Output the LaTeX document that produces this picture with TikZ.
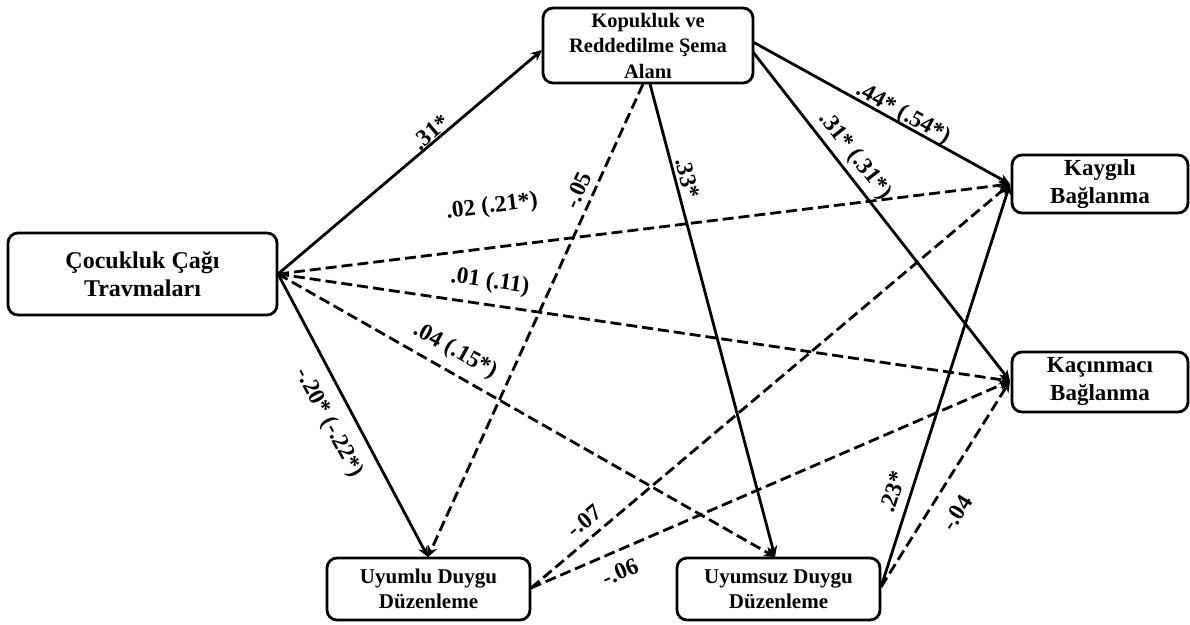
\documentclass[tikz,border=0pt]{standalone}
\usepackage{fontspec}
\setmainfont{Liberation Serif}
\usetikzlibrary{arrows.meta,calc}
\begin{document}
\begin{tikzpicture}[x=1pt,y=-1pt,
 box/.style={draw,line width=2.8pt,rounded corners=10pt,align=center,inner sep=0pt},
 conn/.style={line width=2.8pt,-{Stealth[length=11pt,width=10pt]}},
 dsh/.style={conn,dash pattern=on 11pt off 5pt},
 lab/.style={font=\fontsize{23.5}{25}\selectfont\bfseries,inner sep=1pt}]
\useasboundingbox (0,0) rectangle (1190,624);
% nodes
\node[box,font={\fontsize{24}{28}\selectfont\bfseries},minimum width=269pt,minimum height=82pt] (cct) at (142.5,274) {Çocukluk Çağı\\Travmaları};
\node[box,font={\fontsize{20.5}{25.5}\selectfont\bfseries},minimum width=210pt,minimum height=75pt] (kop) at (648,45.5) {Kopukluk ve\\Reddedilme Şema\\Alanı};
\node[box,font={\fontsize{23}{28}\selectfont\bfseries},minimum width=176pt,minimum height=58pt] (kay) at (1100,184) {Kaygılı\\Bağlanma};
\node[box,font={\fontsize{23}{28}\selectfont\bfseries},minimum width=176pt,minimum height=60pt] (kac) at (1100,382) {Kaçınmacı\\Bağlanma};
\node[box,font={\fontsize{21}{25}\selectfont\bfseries},minimum width=203pt,minimum height=62pt] (uyl) at (428.5,589) {Uyumlu Duygu\\Düzenleme};
\node[box,font={\fontsize{21}{25}\selectfont\bfseries},minimum width=203pt,minimum height=62pt] (uys) at (778.5,589) {Uyumsuz Duygu\\Düzenleme};
% connection points
\coordinate (cR) at (278,274);
\coordinate (kL) at (542,50);
\coordinate (kB1) at (643,84);
\coordinate (kB2) at (650,84);
\coordinate (kR1) at (753,42);
\coordinate (kR2) at (753,52);
\coordinate (kayL) at (1010,184);
\coordinate (kacL) at (1010,381);
\coordinate (uylT) at (428,557);
\coordinate (uysT) at (775,557);
\coordinate (uylR) at (531,588);
\coordinate (uysR) at (881,587);
% connectors
\draw[conn] (cR) -- (kL);
\draw[dsh] (cR) -- (kayL);
\draw[dsh] (cR) -- (kacL);
\draw[dsh] (cR) -- (uysT);
\draw[conn] (cR) -- (uylT);
\draw[dsh] (kB1) -- (uylT);
\draw[conn] (kB2) -- (uysT);
\draw[conn] (kR1) -- (kayL);
\draw[conn] (kR2) -- (kacL);
\draw[dsh] (uylR) -- (kayL);
\draw[dsh] (uylR) -- (kacL);
\draw[conn] (uysR) -- (kayL);
\draw[dsh] (uysR) -- (kacL);
% labels
\node[lab,rotate=40] (l1) at (431,132) {.31*};
\node[lab,rotate=7] (l2) at (492,207) {.02 (.21*)};
\node[lab,rotate=-8] (l3) at (490,282) {.01 (.11)};
\node[lab,rotate=-29] (l4) at (455,351) {.04 (.15*)};
\node[lab,rotate=-62] (l5) at (329,423) {-.20* (-.22*)};
\node[lab,rotate=65] (l6) at (578,190) {-.05};
\node[lab,rotate=-75] (l7) at (688,178) {.33*};
\node[lab,rotate=-29] (l8) at (903,114) {.44* (.54*)};
\node[lab,rotate=-52] (l9) at (855,156) {.31* (.31*)};
\node[lab,rotate=40] (l10) at (584,521) {-.07};
\node[lab,rotate=23] (l11) at (620,572) {-.06};
\node[lab,rotate=72] (l12) at (893,492) {.23*};
\node[lab,rotate=58] (l13) at (957,513) {-.04};
\end{tikzpicture}
\end{document}
